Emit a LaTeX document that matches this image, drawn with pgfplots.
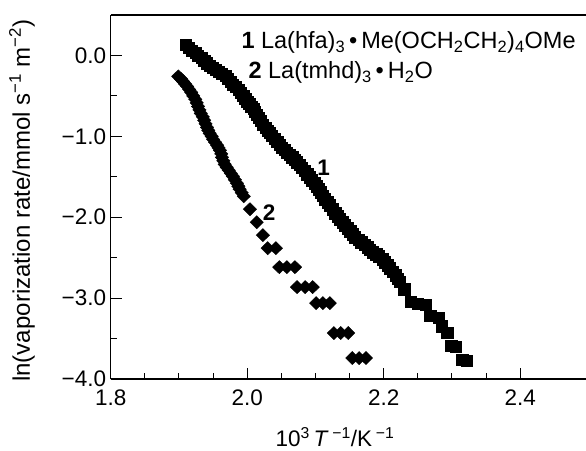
\documentclass[border=0pt]{standalone}
\usepackage{fontspec}
\setmainfont{Liberation Sans}
\usepackage{pgfplots}
\pgfplotsset{compat=1.18}

% series 1: La(hfa)3 . tetraglyme adduct (squares)
\pgfplotstableread{
x y
1.910 0.136
1.914 0.100
1.919 0.062
1.924 0.030
1.928 0.000
1.933 -0.030
1.937 -0.062
1.941 -0.095
1.945 -0.123
1.950 -0.150
1.954 -0.173
1.958 -0.198
1.963 -0.222
1.968 -0.252
1.972 -0.284
1.976 -0.320
1.979 -0.358
1.983 -0.390
1.987 -0.420
1.991 -0.457
1.994 -0.494
1.997 -0.531
2.000 -0.568
2.003 -0.600
2.006 -0.630
2.009 -0.660
2.011 -0.691
2.014 -0.728
2.017 -0.765
2.020 -0.808
2.023 -0.852
2.027 -0.889
2.030 -0.926
2.033 -0.957
2.036 -0.988
2.040 -1.025
2.044 -1.062
2.048 -1.099
2.051 -1.136
2.055 -1.167
2.058 -1.198
2.062 -1.228
2.066 -1.259
2.070 -1.290
2.073 -1.321
2.077 -1.352
2.080 -1.383
2.084 -1.426
2.088 -1.469
2.092 -1.506
2.095 -1.543
2.099 -1.580
2.102 -1.617
2.105 -1.654
2.108 -1.691
2.111 -1.735
2.114 -1.778
2.118 -1.815
2.121 -1.852
2.125 -1.901
2.129 -1.951
2.133 -1.988
2.136 -2.025
2.140 -2.062
2.143 -2.099
2.147 -2.136
2.151 -2.173
2.155 -2.210
2.158 -2.247
2.163 -2.278
2.167 -2.309
2.172 -2.340
2.176 -2.370
2.180 -2.401
2.184 -2.432
2.189 -2.457
2.193 -2.481
2.198 -2.518
2.202 -2.556
2.206 -2.593
2.209 -2.630
2.213 -2.673
2.217 -2.716
2.221 -2.759
2.224 -2.802
2.230 -2.889
2.239 -3.049
2.250 -3.074
2.262 -3.086
2.268 -3.222
2.280 -3.247
2.285 -3.346
2.293 -3.432
2.299 -3.593
2.306 -3.605
2.315 -3.765
2.322 -3.778
}\hfa

% series 2: La(tmhd)3 . H2O (diamonds)
\pgfplotstableread{
x y
1.899 -0.259
1.903 -0.290
1.906 -0.321
1.909 -0.352
1.912 -0.383
1.915 -0.420
1.918 -0.457
1.921 -0.500
1.924 -0.543
1.926 -0.586
1.928 -0.630
1.930 -0.673
1.932 -0.716
1.935 -0.759
1.937 -0.802
1.939 -0.845
1.941 -0.889
1.943 -0.926
1.945 -0.963
1.948 -1.000
1.950 -1.037
1.953 -1.074
1.956 -1.111
1.958 -1.142
1.960 -1.173
1.962 -1.216
1.963 -1.259
1.965 -1.302
1.967 -1.346
1.970 -1.383
1.973 -1.420
1.976 -1.457
1.979 -1.494
1.982 -1.537
1.985 -1.580
1.987 -1.617
1.989 -1.654
1.992 -1.697
1.995 -1.741
2.004 -1.901
2.014 -2.062
2.023 -2.222
2.030 -2.383
2.042 -2.383
2.047 -2.617
2.058 -2.617
2.070 -2.617
2.073 -2.864
2.085 -2.864
2.096 -2.864
2.101 -3.062
2.111 -3.062
2.121 -3.062
2.127 -3.432
2.137 -3.432
2.148 -3.432
2.154 -3.741
2.164 -3.741
2.174 -3.741
}\tmhd

\begin{document}
\begin{tikzpicture}
\begin{axis}[
  name=ax,
  scale only axis, width=477.75pt, height=364pt,
  xmin=1.8, xmax=2.5, ymin=-4, ymax=0.5,
  axis x line=box, axis y line*=left,
  xtick pos=left, ytick pos=left,
  xtick={1.8,2.0,2.2,2.4}, xticklabels={1.8,2.0,2.2,2.4},
  ytick={-4,-3,-2,-1,0}, yticklabels={−4.0,−3.0,−2.0,−1.0,0.0},
  minor x tick num=3, minor y tick num=1,
  tick align=inside,
  major tick length=11pt, minor tick length=6pt,
  axis line style={line width=1.3pt},
  every tick/.style={black, line width=1pt},
  tick label style={font=\fontsize{22.5}{26}\selectfont},
  xticklabel style={yshift=-7pt},
  yticklabel style={xshift=-1pt},
  xlabel={10\textsuperscript{3}\,\textit{T}\,\textsuperscript{−1}/K\,\textsuperscript{−1}},
  ylabel={ln(vaporization rate/mmol s\textsuperscript{−1} m\textsuperscript{−2})},
  xlabel style={font=\fontsize{22.5}{26}\selectfont,
    at={(axis description cs:0.4695,0)}, anchor=center, yshift=-58pt},
  ylabel style={font=\fontsize{24}{28}\selectfont,
    at={(axis description cs:-0.1857,0.49)}, anchor=center},
  clip=false,
]
\addplot[only marks, mark=square*, mark size=5.6pt, black] table[x=x,y=y] {\hfa};
\addplot[only marks, mark=diamond*, mark size=6.6pt, black,
  mark options={xscale=1.35}] table[x=x,y=y] {\tmhd};

\node[anchor=base west, font=\fontsize{23.5}{28}\selectfont] at (axis cs:1.9865,0.086)
  {\textbf{1} La(hfa)\textsubscript{3}\,•\,Me(OCH\textsubscript{2}CH\textsubscript{2})\textsubscript{4}OMe};
\node[anchor=base west, font=\fontsize{23.5}{28}\selectfont] at (axis cs:1.9968,-0.284)
  {\textbf{2} La(tmhd)\textsubscript{3}\,•\,H\textsubscript{2}O};
\node[font=\fontsize{22.5}{26}\selectfont\bfseries] at (axis cs:2.112,-1.383) {1};
\node[font=\fontsize{22.5}{26}\selectfont\bfseries] at (axis cs:2.032,-1.94) {2};
\end{axis}
\pgfresetboundingbox
\path[use as bounding box] (ax.south west) ++(-110.7pt,-71pt) rectangle ++(586pt,450pt);
\end{tikzpicture}
\end{document}
